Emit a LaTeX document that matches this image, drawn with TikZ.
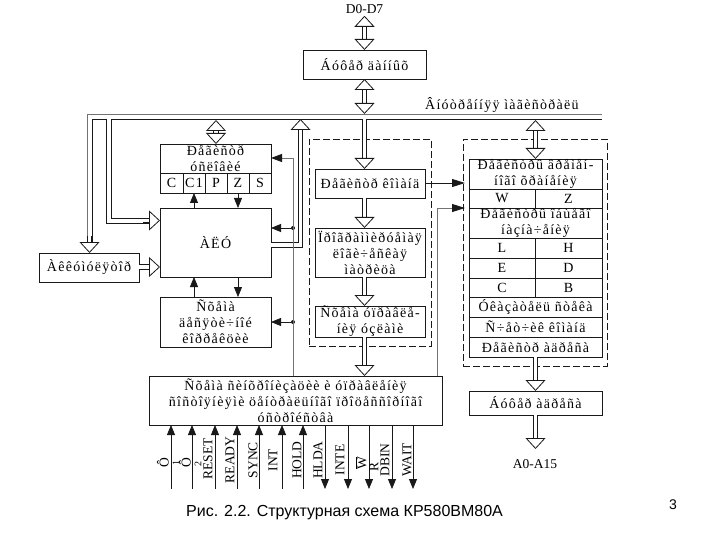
\documentclass[tikz,border=0pt]{standalone}
\usepackage{fontspec}
\setmainfont{Liberation Serif}
\newfontfamily\moj[LetterSpace=9]{Liberation Serif}
\newfontfamily\capfont{Liberation Sans}
\usetikzlibrary{arrows.meta}
\definecolor{ln}{gray}{0.1}
\definecolor{gl}{gray}{0.45}
\tikzset{
 box/.style={draw=ln,line width=.9pt,inner sep=0pt,outer sep=0pt,anchor=north west,align=center,fill=white,font=\moj\fontsize{14}{16}\selectfont},
 lat/.style={inner sep=0pt,font=\fontsize{13.5}{16}\selectfont},
 pin/.style={lat,rotate=90},
 hollow/.style={draw=ln,line width=.8pt,double=white,double distance=3.8pt,-{Triangle[open,fill=white,length=11pt,width=20pt,line width=.8pt]}},
 hollowb/.style={draw=ln,line width=.8pt,double=white,double distance=3.8pt,{Triangle[open,fill=white,length=11pt,width=20pt,line width=.8pt]}-{Triangle[open,fill=white,length=11pt,width=20pt,line width=.8pt]}},
 solid arrow/.style={draw=ln,line width=.8pt,-{Triangle[length=10pt,width=8pt]}},
 grayline/.style={draw=gl,line width=.8pt},
 blackline/.style={draw=ln,line width=.8pt},
 dashbox/.style={draw=ln,line width=.7pt,dash pattern=on 7pt off 3pt,anchor=north west,inner sep=0pt,outer sep=0pt},
 dotn/.style={circle,fill=ln,inner sep=0pt,minimum size=4pt},
}
\begin{document}
\begin{tikzpicture}[x=1pt,y=-1pt]
\useasboundingbox[fill=white] (0,0) rectangle (720,540);
% dashed groups
\node[dashbox,minimum width=122pt,minimum height=207pt] (g1) at (309,139) {};
\node[dashbox,minimum width=144pt,minimum height=227pt] (g2) at (463,139) {};
% boxes
\node[lat] (d07) at (364.5,9) {D0-D7};
\node[box,minimum width=123pt,minimum height=29pt] (buf) at (303,50) {Áóôåð äàííûõ};
\node[lat,anchor=west,font=\moj\fontsize{14}{16}\selectfont] (bus) at (425,105) {Âíóòðåííÿÿ ìàãèñòðàëü};
\node[box,minimum width=111pt,minimum height=29pt] (flag) at (160,144) {Ðåãèñòð\\óñëîâèé};
\node[box,minimum width=23pt,minimum height=20pt] (fc) at (160,173) {C};
\node[box,minimum width=22pt,minimum height=20pt] (fc1) at (183,173) {C1};
\node[box,minimum width=22pt,minimum height=20pt] (fp) at (205,173) {P};
\node[box,minimum width=22pt,minimum height=20pt] (fz) at (227,173) {Z};
\node[box,minimum width=22pt,minimum height=20pt] (fs) at (249,173) {S};
\node[box,minimum width=111pt,minimum height=69pt] (alu) at (160,208) {ÀËÓ};
\node[box,minimum width=100pt,minimum height=29pt] (acc) at (39,253) {Àêêóìóëÿòîð};
\node[box,minimum width=111pt,minimum height=50pt] (sch) at (160,297) {Ñõåìà\\äåñÿòè÷íîé\\êîððåêöèè};
\node[box,minimum width=110pt,minimum height=29pt] (rc) at (315,169) {Ðåãèñòð êîìàíä};
\node[box,minimum width=110pt,minimum height=49pt] (plm) at (315,228) {Ïðîãðàììèðóåìàÿ\\ëîãè÷åñêàÿ\\ìàòðèöà};
\node[box,minimum width=110pt,minimum height=31pt] (ctl) at (315,306) {Ñõåìà óïðàâëå-\\íèÿ óçëàìè};
% register table
\node[box,minimum width=133pt,minimum height=30pt] (r1) at (469,159) {Ðåãèñòðû âðåìåí-\\íîãî õðàíåíèÿ};
\node[box,minimum width=66pt,minimum height=19pt] (rw) at (469,189) {W};
\node[box,minimum width=67pt,minimum height=19pt] (rz) at (535,189) {Z};
\node[box,minimum width=133pt,minimum height=30pt] (r2) at (469,208) {Ðåãèñòðû îáùåãî\\íàçíà÷åíèÿ};
\node[box,minimum width=66pt,minimum height=20pt] (rl) at (469,238) {L};
\node[box,minimum width=67pt,minimum height=20pt] (rh) at (535,238) {H};
\node[box,minimum width=66pt,minimum height=20pt] (re) at (469,258) {E};
\node[box,minimum width=67pt,minimum height=20pt] (rd) at (535,258) {D};
\node[box,minimum width=66pt,minimum height=19pt] (rcc) at (469,278) {C};
\node[box,minimum width=67pt,minimum height=19pt] (rb) at (535,278) {B};
\node[box,minimum width=133pt,minimum height=20pt] (rsp) at (469,297) {Óêàçàòåëü ñòåêà};
\node[box,minimum width=133pt,minimum height=20pt] (rpc) at (469,317) {Ñ÷åò÷èê êîìàíä};
\node[box,minimum width=133pt,minimum height=20pt] (rad) at (469,337) {Ðåãèñòð àäðåñà};
\node[box,minimum width=133pt,minimum height=24pt] (bad) at (469,391) {Áóôåð àäðåñà};
\node[lat] (a015) at (535,464) {A0-A15};
\node[box,minimum width=293pt,minimum height=49pt] (ctrl) at (149,376) {Ñõåìà ñèíõðîíèçàöèè è óïðàâëåíèÿ\\ñîñòîÿíèÿìè öåíòðàëüíîãî ïðîöåññîðíîãî\\óñòðîéñòâà};
% coordinates
\coordinate (cx) at (364.5,119);
\coordinate (ax) at (535.5,119);
\coordinate (fx) at (216,119);
\coordinate (ox) at (300.5,245);
\coordinate (px) at (300.5,119);
\coordinate (bl1) at (87,114);
\coordinate (br1) at (602,114);
\coordinate (bl2) at (92,119);
\coordinate (bl3) at (106,119);
\coordinate (bl4) at (111,119);
\coordinate (brk1) at (362,119);
\coordinate (brk2) at (367,119);
\coordinate (br2) at (602,119);
% bus lines
\draw[grayline] (87,242) -- (bl1) -- (br1);
\draw[blackline] (92,242) -- (bl2) -- (bl3) -- (106,223) -- (150,223);
\draw[blackline] (150,218) -- (111,218) -- (bl4) -- (brk1);
\draw[blackline] (brk2) -- (br2);
\draw[hollow] (89.5,236) -- (acc.north -| 89.5,0);
\draw[hollow] (143,220.5) -- (alu.west |- 0,220.5);
% hollow connectors
\draw[hollowb] (d07.south -| cx) ++(0,2) -- (buf.north -| cx);
\draw[hollowb] (buf.south -| cx) -- (364.5,114);
\draw[hollow] (cx) -- (rc.north -| cx);
\draw[hollow] (rc.south -| cx) -- (plm.north -| cx);
\draw[hollow] (plm.south -| cx) -- (ctl.north -| cx);
\draw[hollow] (ctl.south -| cx) -- (ctrl.north -| cx);
\draw[hollowb] (216,120) -- (flag.north -| fx);
\draw[hollowb] (535.5,120) -- (r1.north -| ax);
\draw[hollow] (alu.east |- ox) -- (ox) -- (px);
\draw[hollow] (acc.east |- 0,267) -- (alu.west |- 0,267);
\draw[hollow] (rad.south -| ax) -- (bad.north -| ax);
\draw[hollow] (bad.south -| ax) -- (535.5,449);
% black arrows
\draw[solid arrow] (alu.north -| fc1) -- (fc1.south);
\draw[solid arrow] (fz.south) -- (alu.north -| fz);
\draw[solid arrow] (sch.north -| fc1) -- (alu.south -| fc1);
\draw[solid arrow] (alu.south -| fz) -- (sch.north -| fz);
\draw[draw=ln,line width=.8pt,-{Triangle[length=13pt,width=8pt]}] (rc.east |- 0,183) -- (465,183);
\coordinate (vb) at (437,208);
\draw[grayline,-{Triangle[length=13pt,width=8pt,color=ln,fill=ln]}] (ctrl.north -| vb) -- (vb) -- (465,208);
% control line
\node[dotn] (d1) at (293,228) {};
\node[dotn] (d2) at (293,322) {};
\coordinate (vt) at (293,158);
\draw[grayline] (ctrl.north -| vt) -- (vt);
\draw[grayline,-{Triangle[length=11pt,width=8pt,color=ln,fill=ln]}] (vt) -- (flag.east |- vt);
\draw[solid arrow] (d1) -- (alu.east |- d1);
\draw[solid arrow] (d2) -- (sch.east |- d2);
% pins
\foreach \n/\x in {a/171,b/192,c/215,d/237,e/259,f/282,g/303}{
 \coordinate (s\n) at (\x,489);
 \draw[solid arrow] (s\n) -- (ctrl.south -| s\n);
}
\foreach \n/\x in {h/325,i/348,j/369,k/392,l/413}{
 \coordinate (s\n) at (\x,489);
 \draw[solid arrow] (ctrl.south -| s\n) -- (s\n);
}
\node[pin] (p1) at (163,463) {Ô};
\node[pin,font=\fontsize{10}{12}\selectfont] (p1s) at (176,463) {1};
\node[pin] (p2) at (185,463) {Ô};
\node[pin,font=\fontsize{10}{12}\selectfont] (p2s) at (198,464) {2};
\node[pin] (p3) at (208,459) {RESET};
\node[pin] (p4) at (230,460) {READY};
\node[pin] (p5) at (253,460) {SYNC};
\node[pin] (p6) at (273,460) {INT};
\node[pin] (p7) at (297,460) {HOLD};
\node[pin] (p8) at (318,460) {HLDA};
\node[pin] (p9) at (340,460) {INTE};
\node[pin] (p10) at (361,463) {$\overline{\hbox{W}}$};
\node[pin] (p11) at (374,467) {R};
\node[pin] (p12) at (385,460) {DBIN};
\node[pin] (p13) at (407,460) {WAIT};
% caption
\node[inner sep=0pt,anchor=west,font=\capfont\fontsize{16}{18}\selectfont] (cap) at (186,513) {Рис. 2.2. Структурная схема КР580ВМ80А};
\node[inner sep=0pt,font=\capfont\fontsize{14}{17}\selectfont] (pg) at (673,505) {3};
\end{tikzpicture}
\end{document}
